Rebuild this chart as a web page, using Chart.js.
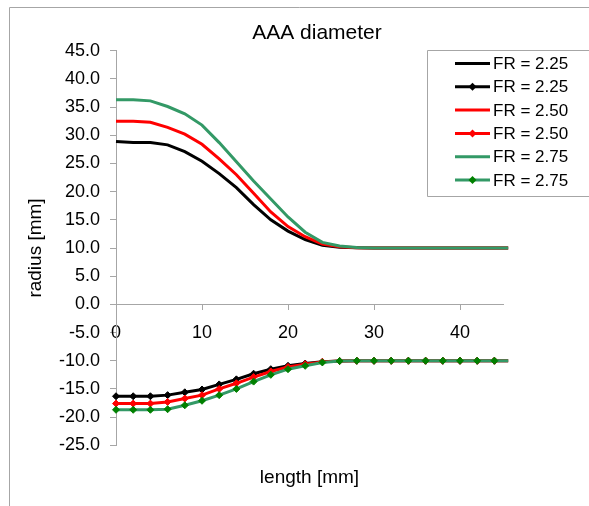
<!DOCTYPE html>
<html>
<head>
<meta charset="utf-8">
<script src="https://cdn.jsdelivr.net/npm/chart.js@4/dist/chart.umd.min.js"></script>
<style>
  html, body { margin: 0; padding: 0; background: #fff; }
  #wrap { width: 589px; height: 506px; }
</style>
</head>
<body>
<div id="wrap"><canvas id="myChart" width="589" height="506"></canvas></div>
<script>
// length along the vessel [mm]
const lengthMm = [0, 2, 4, 6, 8, 10, 12, 14, 16, 18, 20, 22, 24, 26, 28, 30, 32, 34, 36, 38, 40, 42, 44, 45.6];

// upper wall radius [mm]
const upper225 = [28.9, 28.7, 28.7, 28.3, 27.1, 25.4, 23.2, 20.7, 17.7, 15.0, 13.0, 11.5, 10.5, 10.15, 10.05, 10, 10, 10, 10, 10, 10, 10, 10, 10];
const upper250 = [32.5, 32.5, 32.3, 31.4, 30.2, 28.4, 25.8, 23.0, 19.7, 16.4, 13.8, 12.0, 10.7, 10.2, 10.05, 10, 10, 10, 10, 10, 10, 10, 10, 10];
const upper275 = [36.3, 36.3, 36.1, 35.1, 33.8, 31.8, 28.7, 25.3, 21.9, 18.7, 15.5, 12.8, 11.0, 10.35, 10.1, 10, 10, 10, 10, 10, 10, 10, 10, 10];

// lower wall radius [mm]
const lower225 = [-16.3, -16.3, -16.3, -16.1, -15.6, -15.1, -14.2, -13.3, -12.3, -11.5, -10.9, -10.5, -10.2, -10.05, -10, -10, -10, -10, -10, -10, -10, -10, -10, -10];
const lower250 = [-17.6, -17.6, -17.6, -17.3, -16.7, -16.1, -15.0, -14.0, -12.9, -11.9, -11.1, -10.6, -10.2, -10.05, -10, -10, -10, -10, -10, -10, -10, -10, -10, -10];
const lower275 = [-18.7, -18.7, -18.7, -18.6, -17.9, -17.1, -16.1, -15.0, -13.7, -12.5, -11.5, -10.9, -10.3, -10.05, -10, -10, -10, -10, -10, -10, -10, -10, -10, -10];

const seriesLabels = ["FR = 2.25", "FR = 2.25", "FR = 2.50", "FR = 2.50", "FR = 2.75", "FR = 2.75"];

const FONT = "'Liberation Sans', Arial, sans-serif";
const AXIS_GREY = "#a6a6a6";
const GREEN = "#339966";
const GREEN_DARK = "#008000";
const LINE_W = 3;

const toPoints = (ys) => ys.map((y, i) => ({ x: lengthMm[i], y: y }));

const lineSet = (label, ys, color, order) => ({
  label: label,
  data: toPoints(ys),
  borderColor: color,
  backgroundColor: color,
  borderWidth: LINE_W,
  pointRadius: 0,
  order: order,
  clip: false,
});

const markerSet = (label, ys, color, markerColor, order) => ({
  label: label,
  data: toPoints(ys),
  borderColor: color,
  backgroundColor: markerColor,
  borderWidth: LINE_W,
  pointStyle: "rectRot",
  pointRadius: (c) => (c.raw && c.raw.x > 45 ? 0 : 3.5),
  pointBackgroundColor: markerColor,
  pointBorderColor: markerColor,
  pointBorderWidth: 1,
  _marker: true,
  order: order,
  clip: false,
});

function drawDiamond(ctx, x, y, r, color) {
  ctx.fillStyle = color;
  ctx.beginPath();
  ctx.moveTo(x, y - r);
  ctx.lineTo(x + r, y);
  ctx.lineTo(x, y + r);
  ctx.lineTo(x - r, y);
  ctx.closePath();
  ctx.fill();
}

// outer frame, title and boxed legend (drawn like the spreadsheet original)
const decorations = {
  id: "decorations",
  beforeDraw(chart) {
    const ctx = chart.ctx;
    ctx.save();
    ctx.strokeStyle = AXIS_GREY;
    ctx.lineWidth = 1;
    ctx.beginPath();
    ctx.moveTo(9.5, 520);
    ctx.lineTo(9.5, 7.5);
    ctx.lineTo(600, 7.5);
    ctx.stroke();
    ctx.restore();
  },
  afterDraw(chart) {
    const ctx = chart.ctx;
    ctx.save();
    ctx.fillStyle = "#000";
    ctx.font = "21px " + FONT;
    ctx.textAlign = "center";
    ctx.textBaseline = "middle";
    ctx.fillText("AAA diameter", 317, 33);

    // legend box
    ctx.strokeStyle = AXIS_GREY;
    ctx.lineWidth = 1;
    ctx.fillStyle = "#fff";
    ctx.beginPath();
    ctx.rect(427.5, 50.5, 170, 146);
    ctx.fill();
    ctx.stroke();

    ctx.font = "17px " + FONT;
    ctx.textAlign = "left";
    chart.data.datasets.forEach((ds, i) => {
      const y = 63.5 + i * 23.3;
      ctx.strokeStyle = ds.borderColor;
      ctx.lineWidth = LINE_W;
      ctx.beginPath();
      ctx.moveTo(455, y);
      ctx.lineTo(490, y);
      ctx.stroke();
      if (ds._marker) drawDiamond(ctx, 472.5, y, 4, ds.pointBackgroundColor);
      ctx.fillStyle = "#000";
      ctx.fillText(ds.label, 493, y + 1);
    });
    ctx.restore();
  },
};

const ctx = document.getElementById("myChart").getContext("2d");
const myChart = new Chart(ctx, {
  type: "line",
  data: {
    datasets: [
      lineSet(seriesLabels[0], upper225, "#000000", 3),
      markerSet(seriesLabels[1], lower225, "#000000", "#000000", 3),
      lineSet(seriesLabels[2], upper250, "#ff0000", 2),
      markerSet(seriesLabels[3], lower250, "#ff0000", "#ff0000", 2),
      lineSet(seriesLabels[4], upper275, GREEN, 1),
      markerSet(seriesLabels[5], lower275, GREEN, GREEN_DARK, 1),
    ],
  },
  options: {
    responsive: false,
    animation: false,
    layout: {
      padding: { top: 50.7, bottom: 60.7, left: 0, right: 86 },
    },
    plugins: {
      legend: { display: false },
      title: { display: false },
      tooltip: { enabled: false },
    },
    elements: {
      line: { tension: 0 },
    },
    scales: {
      x: {
        type: "linear",
        position: { y: 0 },
        min: 0,
        max: 45,
        grid: {
          drawOnChartArea: false,
          drawTicks: true,
          tickLength: 5,
          color: AXIS_GREY,
        },
        border: { color: AXIS_GREY, width: 1 },
        ticks: {
          stepSize: 10,
          includeBounds: false,
          padding: 13,
          color: "#000",
          font: { family: FONT, size: 18 },
          maxRotation: 0,
        },
        title: {
          display: true,
          text: "length [mm]",
          color: "#000",
          padding: 0,
          font: { family: FONT, size: 19 },
        },
        afterFit(scale) {
          scale.height = 185;
        },
      },
      y: {
        min: -25,
        max: 45,
        grid: {
          drawOnChartArea: false,
          drawTicks: true,
          tickLength: 6,
          color: AXIS_GREY,
        },
        border: { color: AXIS_GREY, width: 1 },
        ticks: {
          stepSize: 5,
          padding: 10,
          color: "#000",
          font: { family: FONT, size: 18 },
          callback: (v) => Number(v).toFixed(1),
        },
        title: {
          display: true,
          text: "radius [mm]",
          color: "#000",
          padding: { top: 24, bottom: 0 },
          font: { family: FONT, size: 19 },
        },
        afterFit(scale) {
          scale.width = 116;
        },
      },
    },
  },
  plugins: [decorations],
});
</script>
</body>
</html>
